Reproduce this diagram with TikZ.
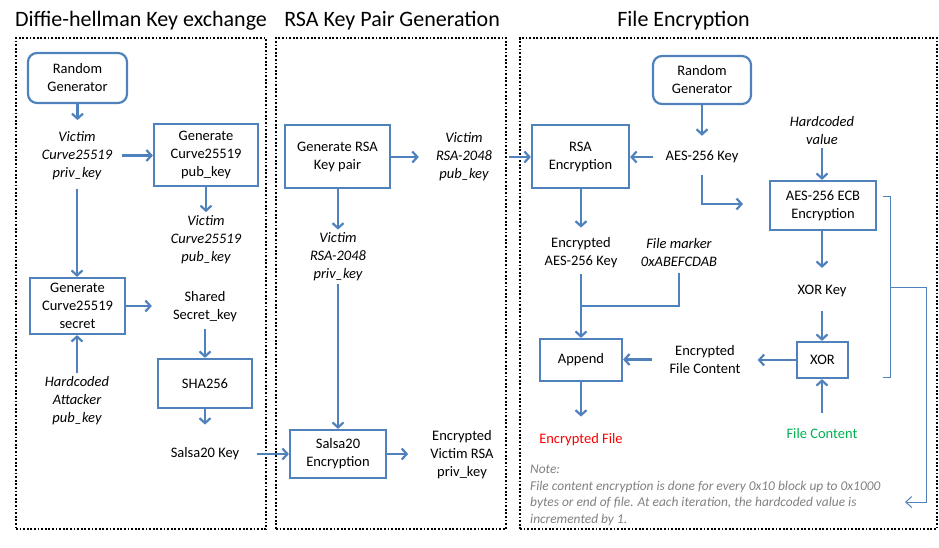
\documentclass[tikz,border=0pt]{standalone}
\usepackage{fontspec}
\setmainfont{Carlito}
\usetikzlibrary{arrows.meta,calc}
\definecolor{myblue}{RGB}{79,129,189}
\definecolor{fcgreen}{RGB}{0,176,80}
\definecolor{notegray}{RGB}{128,128,128}
\newcommand{\bodyfont}{\fontsize{14.5}{18}\selectfont}
\begin{document}
\begin{tikzpicture}[x=1pt,y=-1pt,font=\bodyfont,
  panel/.style={draw=black, line width=1.8pt, dash pattern=on 1.8pt off 1.8pt, inner sep=0pt},
  ttl/.style={font=\fontsize{22}{24}\selectfont, inner sep=0pt},
  box/.style={draw=myblue, line width=2.2pt, fill=white, align=center, inner sep=2pt},
  rbox/.style={box, rounded corners=9pt},
  lbl/.style={align=center, inner sep=3pt},
  itl/.style={lbl, font=\bodyfont\itshape},
  arr/.style={draw=myblue, line width=2.2pt, -{Straight Barb[length=5pt,width=11pt]}},
  ln/.style={draw=myblue, line width=2.2pt},
  thinln/.style={draw=myblue, line width=1pt}]
\useasboundingbox (0,0) rectangle (939,547);

% panels
\node[panel, minimum width=250pt, minimum height=491pt] (p1) at (141,283.5) {};
\node[panel, minimum width=230pt, minimum height=491pt] (p2) at (391,283.5) {};
\node[panel, minimum width=417pt, minimum height=491pt] (p3) at (728.5,283.5) {};

% titles
\node[ttl] (t1) at (141,21) {Diffie-hellman Key exchange};
\node[ttl] (t2) at (392,21) {RSA Key Pair Generation};
\node[ttl] (t3) at (683.5,21) {File Encryption};

% ---------- panel 1 ----------
\node[rbox, minimum width=99pt, minimum height=50pt] (rg1) at (77.5,78) {Random\\Generator};
\node[itl] (vpriv) at (77,155.5) {Victim\\Curve25519\\priv\_key};
\node[box, minimum width=104pt, minimum height=62pt] (gpub) at (206,155) {Generate\\Curve25519\\pub\_key};
\node[itl] (vpub) at (206,239.5) {Victim\\Curve25519\\pub\_key};
\node[box, minimum width=95pt, minimum height=56pt] (gsec) at (77.5,306) {Generate\\Curve25519\\secret};
\node[itl] (hatt) at (77,400.5) {Hardcoded\\Attacker\\pub\_key};
\node[lbl] (ssk) at (205,307) {Shared\\Secret\_key};
\node[box, minimum width=94pt, minimum height=49pt] (sha) at (205,383.5) {SHA256};
\node[lbl] (skey) at (205,454) {Salsa20 Key};

% ---------- panel 2 ----------
\node[box, minimum width=105pt, minimum height=63pt] (grsa) at (337.5,156.5) {Generate RSA\\Key pair};
\node[itl] (vrpub) at (464,157) {Victim\\RSA-2048\\pub\_key};
\node[itl] (vrpriv) at (338,257) {Victim\\RSA-2048\\priv\_key};
\node[box, minimum width=96pt, minimum height=48pt] (sal) at (338,454) {Salsa20\\Encryption};
\node[lbl] (erpk) at (462,455) {Encrypted\\Victim RSA\\priv\_key};

% ---------- panel 3 ----------
\node[rbox, minimum width=98pt, minimum height=48pt] (rg3) at (702,80) {Random\\Generator};
\node[lbl] (aes) at (702,157) {AES-256 Key};
\node[box, minimum width=97pt, minimum height=63pt] (rsae) at (580.5,156.5) {RSA\\Encryption};
\node[lbl] (eak) at (581,253) {Encrypted\\AES-256 Key};
\node[itl] (fm) at (679,253) {File marker\\0xABEFCDAB};
\node[box, minimum width=82pt, minimum height=42pt] (app) at (581,360) {Append};
\node[lbl, text=red] (ef) at (581,440) {Encrypted File};
\node[itl] (hv) at (822,130.5) {Hardcoded\\value};
\node[box, minimum width=106pt, minimum height=49pt] (ecb) at (823,205.5) {AES-256 ECB\\Encryption};
\node[lbl] (xk) at (822,291) {XOR Key};
\node[box, minimum width=51pt, minimum height=36pt] (xor) at (822.5,360) {XOR};
\node[lbl] (efc) at (705,359.5) {Encrypted\\File Content};
\node[lbl, text=fcgreen] (fc) at (822,434) {File Content};
\node[anchor=north west, inner sep=0pt, align=left, text=notegray,
      font=\fontsize{13.4}{16.4}\selectfont\itshape] (note) at (530,465)
  {Note:\\File content encryption is done for every 0x10 block up to 0x1000\\bytes or end of file. At each iteration, the hardcoded value is\\incremented by 1.};

\coordinate (aesend) at (743,204);
\coordinate (fmjoin) at (581,306);
\coordinate (brtop) at (883,196);
\coordinate (brbot) at (883,377);
\coordinate (brmid) at (890,287);
\coordinate (notein) at (905,502);

% ---------- connectors panel 1 ----------
\draw[arr, shorten >=8pt] (rg1.south) -- (vpriv.north -| rg1.south);
\draw[arr, shorten <=7pt] (vpriv.east) -- (vpriv.east -| gpub.west);
\draw[arr] (gpub.south) -- (vpub.north);
\draw[arr, shorten <=6pt] (vpriv.south) -- (vpriv.south |- gsec.north);
\draw[arr, shorten >=18pt] (gsec.east) -- (gsec.east -| ssk.west);
\draw[arr, shorten <=4pt] (ssk.south) -- (sha.north);
\draw[arr, shorten >=20pt] (sha.south) -- (skey.north);
\draw[arr, shorten <=15pt] (skey.east) -- (skey.east -| sal.west);
\draw[arr] (hatt.north) -- (hatt.north |- gsec.south);

% ---------- connectors panel 2 ----------
\draw[arr, shorten >=14pt] (grsa.east |- vrpub) -- (vrpub.west);
\draw[arr, shorten <=14pt] (vrpub.east) -- (vrpub.east -| rsae.west);
\draw[arr] (grsa.south -| vrpriv) -- (vrpriv.north);
\draw[arr] (vrpriv.south) -- (sal.north);
\draw[arr, shorten >=19pt] (sal.east) -- (sal.east -| erpk.west);

% ---------- connectors panel 3 ----------
\draw[arr, shorten >=12pt] (rg3.south) -- (aes.north);
\draw[arr, shorten <=9pt] (aes.west) -- (aes.west -| rsae.east);
\draw[arr, shorten <=9pt] (aes.south) |- (aesend);
\draw[arr, shorten >=7pt] (rsae.south -| eak) -- (eak.north);
\draw[arr, shorten <=3pt] (eak.south) -- (eak.south |- app.north);
\draw[ln, shorten <=3pt] (fm.south) |- (fmjoin);
\draw[arr, shorten >=14pt] (app.south) -- (app.south |- ef.north);
\draw[arr] (hv.south) -- (hv.south |- ecb.north);
\draw[arr, shorten >=14pt] (ecb.south -| xk) -- (xk.north);
\draw[arr, shorten <=11pt] (xk.south) -- (xk.south |- xor.north);
\draw[arr, shorten >=14pt] (xor.west) -- (xor.west -| efc.east);
\draw[arr, shorten <=14pt] (efc.west) -- (efc.west -| app.east);
\draw[arr, shorten <=13pt] (fc.north) -- (fc.north |- xor.south);

% bracket and loop arrow
\draw[thinln] (brtop) -| (brmid) |- (brbot);
\draw[thinln, -{Straight Barb[length=6pt,width=11pt]}] (brmid) -| ($(notein)+(21,0)$) -- (notein);
\end{tikzpicture}
\end{document}
